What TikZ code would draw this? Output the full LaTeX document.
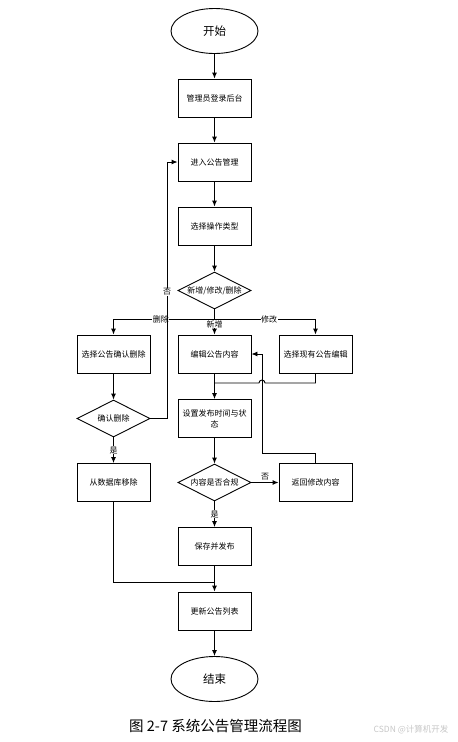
\documentclass[tikz,border=0pt]{standalone}
\usepackage{fontspec}
\setmainfont{Noto Sans CJK SC}
\usetikzlibrary{arrows, arrows.meta}
\usetikzlibrary{shapes.geometric}

\tikzset{
  proc/.style={rectangle, draw, minimum width=73pt, minimum height=38pt, inner sep=1pt, align=center, font=\fontsize{8}{11}\selectfont},
  decide/.style={diamond, draw, aspect=2, minimum width=73pt, minimum height=37pt, inner sep=0pt, font=\fontsize{8}{10}\selectfont},
  term/.style={ellipse, draw, minimum width=87pt, minimum height=45pt, inner sep=0pt, font=\fontsize{11.5}{14}\selectfont},
  flow/.style={-{Latex[length=6pt,width=5pt]}},
  tag/.style={fill=white, inner sep=0.5pt, font=\fontsize{8}{10}\selectfont},
}

\begin{document}
\begin{tikzpicture}[x=1pt, y=-1pt, line width=0.9pt]
      \useasboundingbox (0,0) rectangle (458,742);

      \node[term] (start) at (214.5,31) {开始};
      \node[proc] (login) at (214.5,98) {管理员登录后台};
      \node[proc] (enter) at (214.5,162) {进入公告管理};
      \node[proc] (optype) at (214.5,226) {选择操作类型};
      \node[decide] (op) at (214.5,290.5) {新增/修改/删除};
      \node[proc] (delsel) at (113.5,354) {选择公告确认删除};
      \node[proc] (edit) at (214.5,354) {编辑公告内容};
      \node[proc] (exsel) at (315.5,354) {选择现有公告编辑};
      \node[decide] (delok) at (113.5,418.5) {确认删除};
      \node[proc] (settime) at (214.5,418.5) {设置发布时间与状\\态};
      \node[proc] (remove) at (113.5,482.5) {从数据库移除};
      \node[decide] (check) at (214.5,482.5) {内容是否合规};
      \node[proc] (ret) at (315.5,482.5) {返回修改内容};
      \node[proc] (save) at (214.5,546.5) {保存并发布};
      \node[proc] (update) at (214.5,611) {更新公告列表};
      \node[term] (stop) at (214.5,679) {结束};

      \coordinate (fork) at (214.5,319);
      \coordinate (back) at (167,418.5);
      \coordinate (hop) at (262,383);
      \coordinate (merge) at (214.5,383);
      \coordinate (turn) at (262,453);
      \coordinate (join) at (214.5,582);

      \draw[flow] (start) -- (login);
      \draw[flow] (login) -- (enter);
      \draw[flow] (enter) -- (optype);
      \draw[flow] (optype) -- (op);
      \draw[flow] (op) -- (fork) -- node[tag, anchor=north, pos=0.04] {新增} (edit);
      \draw[flow] (fork) -| node[tag, pos=0.265] {删除} (delsel);
      \draw[flow] (fork) -| node[tag, pos=0.27] {修改} (exsel);

      \draw[flow] (edit) -- (settime);
      \draw (exsel) |- ([xshift=3pt]hop) arc[start angle=0, end angle=180, radius=3pt] -- (merge);
      \draw[flow] (ret) |- (turn) |- (edit);

      \draw[flow] (settime) -- (check);
      \draw[flow] (check) -- node[tag, above=1pt, fill=none] {否} (ret);
      \draw[flow] (check) -- node[tag] {是} (save);
      \draw[flow] (save) -- (update);
      \draw[flow] (update) -- (stop);

      \draw[flow] (delsel) -- (delok);
      \draw[flow] (delok) -- node[tag] {是} (remove);
      \draw[flow] (delok) -- (back) |- node[tag, pos=0.247] {否} (enter);
      \draw (remove) |- (join);

      \node[font=\fontsize{14.5}{17}\selectfont] (caption) at (215.5,726) {图 2-7 系统公告管理流程图};
      \node[font=\fontsize{8.5}{10}\selectfont, text=black!22] (mark) at (411,730) {CSDN @计算机开发};
\end{tikzpicture}
\end{document}
